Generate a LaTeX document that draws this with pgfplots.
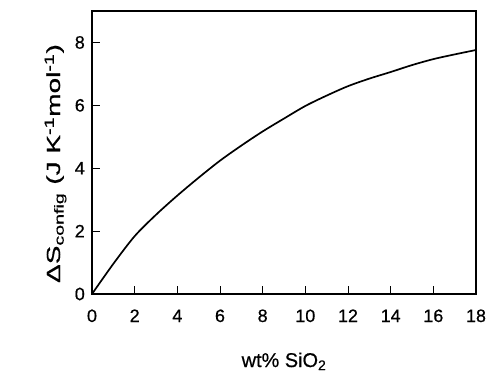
\documentclass[border=0pt]{standalone}
\usepackage{pgfplots}
\pgfplotsset{compat=1.18}
\usepackage{fontspec}
\setmainfont{Liberation Sans}
\newfontfamily\labfont[FakeBold=0.6]{Liberation Sans}
\begin{document}
\begin{tikzpicture}
\path[use as bounding box] (-92bp,-79bp) rectangle (394bp,294bp);
\begin{axis}[
  at={(0,0)}, anchor=south west,
  scale only axis, width=384bp, height=283bp,
  xmin=0, xmax=18, ymin=0, ymax=9,
  xtick={0,2,...,18}, ytick={0,2,...,8},
  tick pos=left, tick align=inside,
  major tick length=8bp,
  axis line style={line width=1.1pt},
  every tick/.style={black, line width=0.9pt},
  /pgf/number format/assume math mode=true,
  every tick label/.append style={font=\labfont\fontsize{18}{20}\selectfont, inner sep=0pt},
  xticklabel style={anchor=base, yshift=-28bp},
  yticklabel style={anchor=east, xshift=-7bp},
  xlabel={\labfont\fontsize{20}{24}\selectfont wt\% SiO\textsubscript{2}},
  ylabel={\labfont\fontsize{19}{22}\selectfont\scalebox{1.48}[1]{ΔS\textsubscript{config} (J K\textsuperscript{-1}mol\textsuperscript{-1})}},
  xlabel style={at={(axis description cs:0.5,-0.258)}, anchor=base, inner sep=0pt},
  ylabel style={at={(axis description cs:-0.0833,0.461)}, anchor=base, rotate=0, inner sep=0pt},
]
\addplot[black, line width=1.7pt, smooth] coordinates {
 (0,0) (1,0.96) (2,1.84) (3,2.52) (4,3.13) (5,3.70) (6,4.24) (7,4.72) (8,5.17)
 (9,5.58) (10,5.98) (11,6.31) (12,6.61) (13,6.85) (14,7.06) (15,7.28) (16,7.47) (17,7.62) (18,7.76)
};
\end{axis}
\end{tikzpicture}
\end{document}
